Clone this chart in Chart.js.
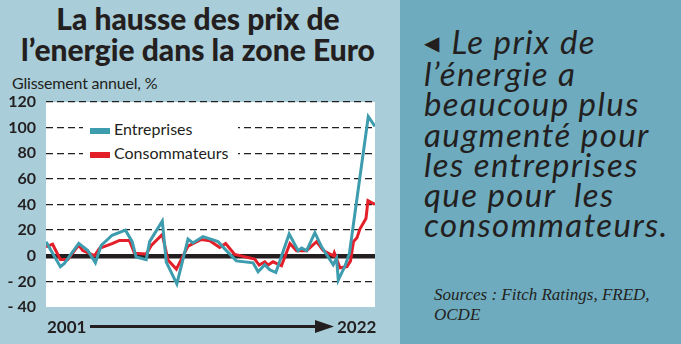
<!DOCTYPE html>
<html lang="fr">
<head>
<meta charset="utf-8">
<script src="https://cdn.jsdelivr.net/npm/chart.js@4/dist/chart.umd.min.js"></script>
<style>
  body { margin: 0; width: 681px; height: 344px; overflow: hidden; position: relative; font-family: Lato, sans-serif; color: #231f20; }
  #gauche { position: absolute; left: 0; top: 0; width: 400px; height: 344px; background: #a9cdd9; }
  #droite { position: absolute; left: 400px; top: 0; width: 281px; height: 344px; background: #6eabbe; }
  #titre { position: absolute; left: 0; top: 3px; width: 396px; text-align: center; font-weight: 900; font-size: 30px; line-height: 31px; }
  #unite { position: absolute; left: 12px; top: 73px; font-size: 16px; letter-spacing: -0.2px; }
  #graphe { position: absolute; left: 0; top: 0; }
  #legende { position: absolute; left: 83px; top: 117px; width: 155px; height: 48px; background: #fff; font-size: 16px; }
  .item { position: absolute; left: 7px; white-space: nowrap; }
  .item i { display: inline-block; width: 20px; height: 6px; vertical-align: middle; margin-right: 4px; }
  #axe { position: absolute; left: 0; top: 316px; width: 400px; height: 24px; font-size: 17px; font-weight: bold; }
  #axe span { position: absolute; top: 0; }
  #texte { position: absolute; left: 24px; top: 26px; font-style: italic; font-size: 33px; line-height: 30.2px; white-space: nowrap; letter-spacing: 1.4px; }
  #texte b { font-style: normal; font-weight: normal; font-family: "DejaVu Sans"; font-size: 20px; vertical-align: 4px; margin-right: 12px; letter-spacing: 0; }
  #sources { position: absolute; left: 34px; top: 285px; font-family: "Liberation Serif", serif; font-style: italic; font-size: 17px; line-height: 20px; }
</style>
</head>
<body>
<div id="gauche">
  <div id="titre">La hausse des prix de<br>l’energie dans la zone Euro</div>
  <div id="unite">Glissement annuel, %</div>
  <canvas id="graphe" width="400" height="344"></canvas>
  <div id="legende"></div>
  <div id="axe">
    <span style="left:47px">2001</span>
    <svg style="position:absolute;left:89px;top:3px" width="246" height="16">
      <line x1="1" y1="7.5" x2="228" y2="7.5" stroke="#231f20" stroke-width="3.2"/>
      <polygon points="226,1 245,7.5 226,14" fill="#231f20"/>
    </svg>
    <span style="left:337px">2022</span>
  </div>
</div>
<div id="droite">
  <div id="texte"><b>◀</b>Le prix de<br>l’énergie a<br>beaucoup plus<br>augmenté pour<br>les entreprises<br>que pour &nbsp;les<br>consommateurs.</div>
  <div id="sources">Sources : Fitch Ratings, FRED,<br>OCDE</div>
</div>
<script>
// donnees (dates en annees decimales, glissement annuel en %)

const datesEntreprises = [
  2001.00, 2001.94, 2002.20, 2003.14, 2003.73, 2004.23, 2004.60, 2005.32, 2006.19, 2006.63,
  2006.89, 2007.55, 2007.77, 2008.60, 2008.86, 2009.55, 2010.28, 2010.60, 2011.26, 2012.24,
  2012.79, 2013.44, 2014.53, 2014.86, 2015.30, 2015.62, 2016.02, 2016.89, 2017.48, 2017.70,
  2018.03, 2018.57, 2019.01, 2019.77, 2019.99, 2020.10, 2020.54, 2020.83, 2022.06, 2022.50
];
const entreprises = [
  11, -8.6, -6, 9.6, 4, -5.5, 8, 16, 20, 11,
  -1, -3, 11, 27, -5, -22, 13, 10, 15, 11,
  4, -4, -5.5, -12.5, -7, -11, -13, 17, 4, 6,
  4, 18, 7, -7, -2, -19, -8, 2, 108.6, 101
];

const datesConsommateurs = [
  2001.00, 2001.43, 2001.94, 2002.42, 2003.14, 2003.40, 2004.17, 2004.49, 2005.36, 2005.80,
  2006.45, 2006.78, 2007.55, 2007.88, 2008.60, 2008.97, 2009.52, 2010.28, 2011.15, 2011.70,
  2012.35, 2012.74, 2013.33, 2014.64, 2014.93, 2015.30, 2015.51, 2015.84, 2016.39, 2016.94,
  2017.37, 2018.03, 2018.68, 2019.12, 2019.77, 2019.84, 2020.21, 2020.67, 2020.90, 2021.09,
  2021.32, 2021.52, 2021.91, 2022.04, 2022.50
];
const consommateurs = [
  7, 9, -3, -3, 8.3, 4, 0, 5.7, 9.6, 12,
  12, 2, 1.3, 8, 16.6, -3.4, -10.4, 7.5, 12.7, 11.7,
  6.5, 9.6, 1, -2.6, -7.3, -4.7, -7.3, -4.7, -7.8, 9.6,
  4, 4, 11, 4, 0, 2.3, -9.4, -8.5, -4, 11,
  14, 21, 29, 43, 40
];

const series = ['Entreprises', 'Consommateurs'];
const couleurs = ['#3d9cae', '#e3202a'];

// legende html (fond blanc par dessus la grille)
const legende = document.getElementById('legende');
series.forEach((nom, i) => {
  const d = document.createElement('div');
  d.className = 'item';
  d.style.top = (i === 0 ? 2 : 26) + 'px';
  d.innerHTML = '<i style="background:' + couleurs[i] + '"></i>' + nom;
  legende.appendChild(d);
});

const fondBlanc = {
  id: 'fondBlanc',
  beforeDraw(chart) {
    const a = chart.chartArea;
    chart.ctx.save();
    chart.ctx.fillStyle = '#fff';
    chart.ctx.fillRect(a.left, a.top, a.right - a.left, a.bottom - a.top);
    chart.ctx.restore();
  }
};

const config = {
  type: 'line',
  data: {
    datasets: [{
      label: series[0],
      data: datesEntreprises.map((x, i) => ({ x: x, y: entreprises[i] })),
      borderColor: couleurs[0],
      backgroundColor: couleurs[0],
      borderWidth: 3,
      pointRadius: 0
    }, {
      label: series[1],
      data: datesConsommateurs.map((x, i) => ({ x: x, y: consommateurs[i] })),
      borderColor: couleurs[1],
      backgroundColor: couleurs[1],
      borderWidth: 3,
      pointRadius: 0
    }]
  },
  options: {
    responsive: false,
    animation: false,
    layout: { padding: { top: 102, right: 25, bottom: 37, left: 0 } },
    plugins: { legend: { display: false }, tooltip: { enabled: false } },
    scales: {
      x: { type: 'linear', min: 2001, max: 2022.5, display: false },
      y: {
        min: -40,
        max: 120,
        ticks: {
          stepSize: 20,
          padding: 10,
          color: '#231f20',
          font: { family: 'Lato', size: 16, weight: 'bold' },
          callback: v => v < 0 ? '- ' + Math.abs(v) : v
        },
        grid: {
          drawTicks: false,
          color: c => c.tick && c.tick.value === -40 ? 'rgba(0,0,0,0)' : '#231f20',
          lineWidth: c => c.tick && c.tick.value === 0 ? 4.5 : 1.3
        },
        border: {
          display: false,
          dash: c => c.tick && c.tick.value === 0 ? [] : [7, 4]
        },
        afterFit: s => { s.width = 46; }
      }
    }
  },
  plugins: [fondBlanc]
};

const graphe = new Chart(document.getElementById('graphe'), config);
</script>
</body>
</html>
